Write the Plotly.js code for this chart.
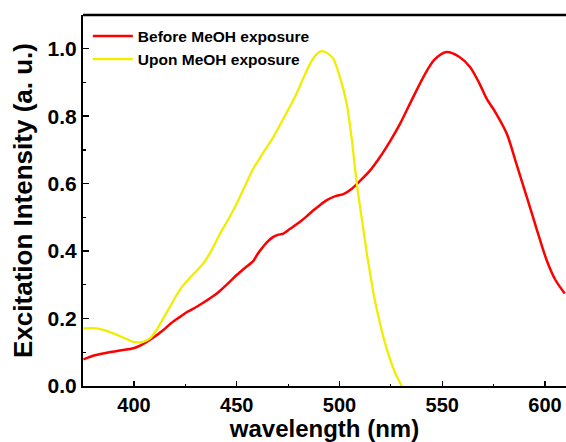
<!DOCTYPE html>
<html>
<head>
<meta charset="utf-8">
<script src="https://cdn.plot.ly/plotly-3.0.1.min.js"></script>
<style>html,body{margin:0;padding:0;overflow:hidden;background:#fff}</style>
</head>
<body>
<div id="chart" style="width:566px;height:442px"></div>
<script>
const seriesNames = ["Before MeOH exposure", "Upon MeOH exposure"];

const beforeX = [375.4, 381, 388, 394, 399.7, 403, 406.2, 410, 414.3, 418, 422.4, 426, 430.5, 435, 440.3, 445, 450, 454, 458.1, 460, 462.2, 465, 467.8, 470, 472.7, 476, 480.8, 484, 487.3, 490, 493.8, 498, 501.9, 506, 510, 515, 519.7, 525, 529.5, 535, 540.8, 546, 552, 558, 563.5, 568, 571.6, 576, 581.4, 586, 591.1, 596, 600.8, 605, 609.6];
const beforeY = [0.079, 0.091, 0.100, 0.106, 0.112, 0.120, 0.131, 0.146, 0.166, 0.186, 0.205, 0.220, 0.235, 0.252, 0.274, 0.300, 0.329, 0.350, 0.371, 0.390, 0.408, 0.428, 0.442, 0.448, 0.452, 0.466, 0.487, 0.503, 0.521, 0.534, 0.551, 0.563, 0.569, 0.585, 0.608, 0.640, 0.679, 0.730, 0.778, 0.846, 0.916, 0.966, 0.990, 0.977, 0.946, 0.898, 0.852, 0.810, 0.748, 0.660, 0.561, 0.464, 0.373, 0.315, 0.274];

const uponX = [375.4, 381.9, 386, 390, 395, 399.7, 404.5, 408, 411, 414, 417.5, 421, 424, 428, 433.7, 438, 441.9, 446, 450, 454, 458.1, 463, 467.8, 472, 477.5, 482, 485.7, 489, 491.3, 494, 497, 500, 503.5, 506, 508.4, 511, 513.3, 515, 517, 519.7, 521.3, 524, 527, 530.3];
const uponY = [0.171, 0.171, 0.165, 0.156, 0.143, 0.131, 0.131, 0.143, 0.166, 0.198, 0.235, 0.272, 0.299, 0.326, 0.363, 0.405, 0.452, 0.495, 0.541, 0.593, 0.645, 0.693, 0.738, 0.785, 0.847, 0.907, 0.956, 0.985, 0.993, 0.987, 0.970, 0.920, 0.837, 0.730, 0.600, 0.490, 0.393, 0.330, 0.260, 0.186, 0.146, 0.090, 0.040, 0.000];

const xTickVals = [400, 450, 500, 550, 600];
const yTickVals = [0.0, 0.2, 0.4, 0.6, 0.8, 1.0];

const fontFam = "Liberation Sans, Arial, Helvetica, sans-serif";

const traces = [
  {x: beforeX, y: beforeY, name: seriesNames[0], type: "scatter", mode: "lines",
   line: {color: "#ff0000", width: 2.5, shape: "spline", smoothing: 0.8}},
  {x: uponX, y: uponY, name: seriesNames[1], type: "scatter", mode: "lines",
   line: {color: "#f0ee00", width: 2.3, shape: "spline", smoothing: 0.8}}
];

const layout = {
  width: 566, height: 442,
  margin: {l: 83, r: 0, t: 15, b: 56},
  paper_bgcolor: "#fff", plot_bgcolor: "#fff",
  showlegend: true,
  legend: {x: 0.01, y: 0.988, xanchor: "left", yanchor: "top",
           itemwidth: 40,
           bgcolor: "rgba(0,0,0,0)", tracegroupgap: 0,
           font: {family: fontFam, size: 15.5, color: "#000", weight: "bold"}},
  xaxis: {
    range: [375.2, 610.2], tickvals: xTickVals, ticktext: xTickVals.map(String),
    ticks: "inside", ticklen: 5, tickwidth: 1.3, tickcolor: "#000",
    minor: {dtick: 25, tick0: 375, ticks: "inside", ticklen: 2.5, tickwidth: 1, tickcolor: "#000"},
    showline: true, linecolor: "#000", linewidth: 1.5, mirror: false,
    showgrid: false, zeroline: false,
    tickfont: {family: fontFam, size: 20, color: "#000", weight: "bold"},
    title: {text: "wavelength (nm)", standoff: 2,
            font: {family: fontFam, size: 24, color: "#000", weight: "bold"}}
  },
  yaxis: {
    range: [0, 1.1], tickvals: yTickVals, tickformat: ".1f",
    ticks: "inside", ticklen: 6, tickwidth: 1.5, tickcolor: "#000",
    minor: {dtick: 0.1, tick0: 0, ticks: "inside", ticklen: 2.5, tickwidth: 1.2, tickcolor: "#000"},
    showline: true, linecolor: "#000", linewidth: 2, mirror: false,
    showgrid: false, zeroline: false,
    tickfont: {family: fontFam, size: 21, color: "#000", weight: "bold"},
    title: {text: "Excitation Intensity (a. u.)", standoff: 7,
            font: {family: fontFam, size: 26, color: "#000", weight: "bold"}}
  },
  shapes: [
    {type: "line", xref: "paper", yref: "paper", x0: 0, x1: 1, y0: 1, y1: 1,
     line: {color: "#000", width: 2.5}}
  ]
};

Plotly.newPlot("chart", traces, layout, {displayModeBar: false, staticPlot: true});
</script>
</body>
</html>
